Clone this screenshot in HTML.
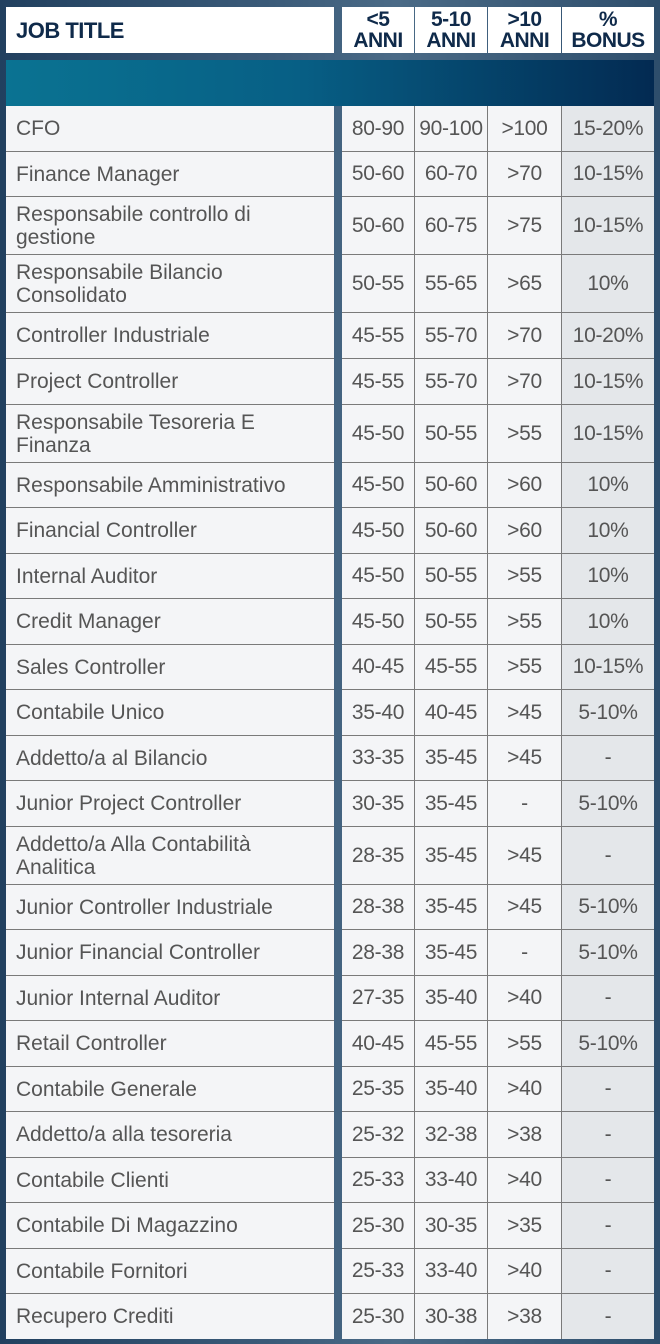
<!DOCTYPE html>
<html><head><meta charset="utf-8"><style>
*{margin:0;padding:0;box-sizing:border-box}
body{width:660px;height:1344px;overflow:hidden;background:linear-gradient(90deg,#21405f 0%,#3a5a78 40%,#4a6a86 60%,#2e4e6c 100%);font-family:"Liberation Sans",sans-serif;position:relative}
.hdr{position:absolute;top:7px;height:46px;background:#fff;color:#0f2a4a;font-weight:bold;display:flex;align-items:center;justify-content:center;text-align:center;font-size:21px;line-height:21px;letter-spacing:-0.5px}
.band{position:absolute;left:6px;top:60px;width:648px;height:46px;background:linear-gradient(90deg,#0a7392 0%,#075f85 45%,#032a52 100%)}
#rows{position:absolute;left:6px;top:106px;width:648px}
.r{display:flex}
.l{width:328px;background:#f4f5f7;border-bottom:1px solid #7a7a7a;color:#555;font-size:21px;line-height:23px;padding-left:10px;display:flex;align-items:center}
.gap{width:8px}
.c{background:#f4f5f7;border-bottom:1px solid #7a7a7a;border-right:1px solid #7a7a7a;color:#555;font-size:21px;display:flex;align-items:center;justify-content:center;letter-spacing:-0.3px;white-space:nowrap}
.c1{width:73px}.c2{width:73px}.c3{width:74px}.c4{width:92px;background:#e4e7ea;border-right:none}
</style></head><body>
<div class="hdr" style="left:6px;width:328px;justify-content:flex-start;padding-left:10px;font-size:22px">JOB TITLE</div>
<div class="hdr" style="left:342px;width:72px">&lt;5<br>ANNI</div>
<div class="hdr" style="left:415px;width:72px">5-10<br>ANNI</div>
<div class="hdr" style="left:488px;width:73px">&gt;10<br>ANNI</div>
<div class="hdr" style="left:562px;width:92px">%<br>BONUS</div>
<div class="band"></div>
<div id="rows">
<div class="r" style="height:46px"><div class="l">CFO</div><div class="gap"></div><div class="c c1">80-90</div><div class="c c2">90-100</div><div class="c c3">&gt;100</div><div class="c c4">15-20%</div></div>
<div class="r" style="height:45px"><div class="l">Finance Manager</div><div class="gap"></div><div class="c c1">50-60</div><div class="c c2">60-70</div><div class="c c3">&gt;70</div><div class="c c4">10-15%</div></div>
<div class="r" style="height:58px"><div class="l">Responsabile controllo di<br>gestione</div><div class="gap"></div><div class="c c1">50-60</div><div class="c c2">60-75</div><div class="c c3">&gt;75</div><div class="c c4">10-15%</div></div>
<div class="r" style="height:58px"><div class="l">Responsabile Bilancio<br>Consolidato</div><div class="gap"></div><div class="c c1">50-55</div><div class="c c2">55-65</div><div class="c c3">&gt;65</div><div class="c c4">10%</div></div>
<div class="r" style="height:46px"><div class="l">Controller Industriale</div><div class="gap"></div><div class="c c1">45-55</div><div class="c c2">55-70</div><div class="c c3">&gt;70</div><div class="c c4">10-20%</div></div>
<div class="r" style="height:46px"><div class="l">Project Controller</div><div class="gap"></div><div class="c c1">45-55</div><div class="c c2">55-70</div><div class="c c3">&gt;70</div><div class="c c4">10-15%</div></div>
<div class="r" style="height:58px"><div class="l">Responsabile Tesoreria E<br>Finanza</div><div class="gap"></div><div class="c c1">45-50</div><div class="c c2">50-55</div><div class="c c3">&gt;55</div><div class="c c4">10-15%</div></div>
<div class="r" style="height:45px"><div class="l">Responsabile Amministrativo</div><div class="gap"></div><div class="c c1">45-50</div><div class="c c2">50-60</div><div class="c c3">&gt;60</div><div class="c c4">10%</div></div>
<div class="r" style="height:46px"><div class="l">Financial Controller</div><div class="gap"></div><div class="c c1">45-50</div><div class="c c2">50-60</div><div class="c c3">&gt;60</div><div class="c c4">10%</div></div>
<div class="r" style="height:45px"><div class="l">Internal Auditor</div><div class="gap"></div><div class="c c1">45-50</div><div class="c c2">50-55</div><div class="c c3">&gt;55</div><div class="c c4">10%</div></div>
<div class="r" style="height:46px"><div class="l">Credit Manager</div><div class="gap"></div><div class="c c1">45-50</div><div class="c c2">50-55</div><div class="c c3">&gt;55</div><div class="c c4">10%</div></div>
<div class="r" style="height:45px"><div class="l">Sales Controller</div><div class="gap"></div><div class="c c1">40-45</div><div class="c c2">45-55</div><div class="c c3">&gt;55</div><div class="c c4">10-15%</div></div>
<div class="r" style="height:46px"><div class="l">Contabile Unico</div><div class="gap"></div><div class="c c1">35-40</div><div class="c c2">40-45</div><div class="c c3">&gt;45</div><div class="c c4">5-10%</div></div>
<div class="r" style="height:45px"><div class="l">Addetto/a al Bilancio</div><div class="gap"></div><div class="c c1">33-35</div><div class="c c2">35-45</div><div class="c c3">&gt;45</div><div class="c c4">-</div></div>
<div class="r" style="height:46px"><div class="l">Junior Project Controller</div><div class="gap"></div><div class="c c1">30-35</div><div class="c c2">35-45</div><div class="c c3">-</div><div class="c c4">5-10%</div></div>
<div class="r" style="height:58px"><div class="l">Addetto/a Alla Contabilità<br>Analitica</div><div class="gap"></div><div class="c c1">28-35</div><div class="c c2">35-45</div><div class="c c3">&gt;45</div><div class="c c4">-</div></div>
<div class="r" style="height:45px"><div class="l">Junior Controller Industriale</div><div class="gap"></div><div class="c c1">28-38</div><div class="c c2">35-45</div><div class="c c3">&gt;45</div><div class="c c4">5-10%</div></div>
<div class="r" style="height:46px"><div class="l">Junior Financial Controller</div><div class="gap"></div><div class="c c1">28-38</div><div class="c c2">35-45</div><div class="c c3">-</div><div class="c c4">5-10%</div></div>
<div class="r" style="height:45px"><div class="l">Junior Internal Auditor</div><div class="gap"></div><div class="c c1">27-35</div><div class="c c2">35-40</div><div class="c c3">&gt;40</div><div class="c c4">-</div></div>
<div class="r" style="height:46px"><div class="l">Retail Controller</div><div class="gap"></div><div class="c c1">40-45</div><div class="c c2">45-55</div><div class="c c3">&gt;55</div><div class="c c4">5-10%</div></div>
<div class="r" style="height:45px"><div class="l">Contabile Generale</div><div class="gap"></div><div class="c c1">25-35</div><div class="c c2">35-40</div><div class="c c3">&gt;40</div><div class="c c4">-</div></div>
<div class="r" style="height:46px"><div class="l">Addetto/a alla tesoreria</div><div class="gap"></div><div class="c c1">25-32</div><div class="c c2">32-38</div><div class="c c3">&gt;38</div><div class="c c4">-</div></div>
<div class="r" style="height:45px"><div class="l">Contabile Clienti</div><div class="gap"></div><div class="c c1">25-33</div><div class="c c2">33-40</div><div class="c c3">&gt;40</div><div class="c c4">-</div></div>
<div class="r" style="height:46px"><div class="l">Contabile Di Magazzino</div><div class="gap"></div><div class="c c1">25-30</div><div class="c c2">30-35</div><div class="c c3">&gt;35</div><div class="c c4">-</div></div>
<div class="r" style="height:45px"><div class="l">Contabile Fornitori</div><div class="gap"></div><div class="c c1">25-33</div><div class="c c2">33-40</div><div class="c c3">&gt;40</div><div class="c c4">-</div></div>
<div class="r" style="height:45px"><div class="l" style="border-bottom:none">Recupero Crediti</div><div class="gap"></div><div class="c c1" style="border-bottom:none">25-30</div><div class="c c2" style="border-bottom:none">30-38</div><div class="c c3" style="border-bottom:none">&gt;38</div><div class="c c4" style="border-bottom:none">-</div></div>
</div>
</body></html>
